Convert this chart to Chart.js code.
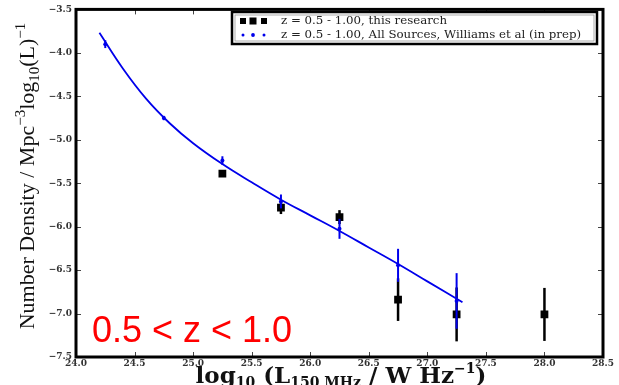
<!DOCTYPE html>
<html>
<head>
<meta charset="utf-8">
<script src="https://cdn.jsdelivr.net/npm/chart.js@4.4.1/dist/chart.umd.min.js"></script>
<style>
  html, body { margin: 0; padding: 0; background: #fff; }
  #wrap { width: 619px; height: 385px; position: relative; }
</style>
</head>
<body>
<div id="wrap"><canvas id="lf" width="619" height="385"></canvas></div>
<script>
// this research, z = 0.5 - 1.00
const blackLum = [25.25, 25.75, 26.25, 26.75, 27.25, 28.0];
const blackDens = [-5.39, -5.78, -5.89, -6.84, -7.01, -7.01];
const blackErr = [0.035, 0.075, 0.08, 0.245, 0.31, 0.305];

// Williams et al (in prep), all sources
const blueLum = [24.25, 24.75, 25.25, 25.75, 26.25, 26.75, 27.25];
const blueDens = [-3.9, -4.75, -5.24, -5.71, -6.025, -6.445, -6.855];
const blueErr = [0.045, 0.025, 0.05, 0.08, 0.115, 0.19, 0.32];

// fitted curve
const fitLum = [24.2, 24.4, 24.6, 24.8, 25.0, 25.25, 25.5, 25.75, 26.0, 26.25, 26.5, 26.75, 27.0, 27.3];
const fitDens = [-3.77, -4.18, -4.53, -4.81, -5.04, -5.28, -5.49, -5.69, -5.87, -6.05, -6.24, -6.43, -6.63, -6.87];

const xTicks = [24.0, 24.5, 25.0, 25.5, 26.0, 26.5, 27.0, 27.5, 28.0, 28.5];
const yTicks = [-7.5, -7.0, -6.5, -6.0, -5.5, -5.0, -4.5, -4.0, -3.5];

const legendLabels = [
  "z = 0.5 - 1.00, this research",
  "z = 0.5 - 1.00, All Sources, Williams et al (in prep)"
];
const zLabel = "0.5 < z < 1.0";

const BLUE = "rgb(0,0,235)";
const toPts = (xs, ys) => xs.map((x, i) => ({ x: x, y: ys[i] }));

// draws a string made of pieces with their own size / baseline shift
function richText(ctx, parts, x, y, weight, family) {
  let total = 0;
  parts.forEach(p => {
    ctx.font = weight + " " + p[1] + "px " + family;
    p.w = ctx.measureText(p[0]).width;
    total += p.w;
  });
  let cx = x - total / 2;
  ctx.textAlign = "left";
  ctx.textBaseline = "alphabetic";
  parts.forEach(p => {
    ctx.font = weight + " " + p[1] + "px " + family;
    ctx.fillText(p[0], cx, y + p[2]);
    cx += p.w;
  });
}

const errorBars = {
  id: "errorBars",
  beforeDatasetDraw(chart, args) {
    const ds = chart.data.datasets[args.index];
    if (!ds.errors) return;
    const ctx = chart.ctx;
    const xs = chart.scales.x, ys = chart.scales.y;
    ctx.save();
    ctx.strokeStyle = ds.borderColor;
    ctx.lineWidth = ds.errWidth;
    ds.data.forEach((p, i) => {
      const px = xs.getPixelForValue(p.x);
      ctx.beginPath();
      ctx.moveTo(px, ys.getPixelForValue(p.y + ds.errors[i]));
      ctx.lineTo(px, ys.getPixelForValue(p.y - ds.errors[i]));
      ctx.stroke();
    });
    ctx.restore();
  }
};

const decor = {
  id: "decor",
  afterDatasetsDraw(chart) {
    const ctx = chart.ctx;
    const a = chart.chartArea;
    const xs = chart.scales.x, ys = chart.scales.y;
    ctx.save();
    // inward ticks on all four sides
    ctx.strokeStyle = "#444";
    ctx.lineWidth = 1;
    xTicks.forEach(v => {
      const px = Math.round(xs.getPixelForValue(v)) + 0.5;
      ctx.beginPath();
      ctx.moveTo(px, a.top); ctx.lineTo(px, a.top + 5);
      ctx.moveTo(px, a.bottom); ctx.lineTo(px, a.bottom - 5);
      ctx.stroke();
    });
    yTicks.forEach(v => {
      const py = Math.round(ys.getPixelForValue(v)) + 0.5;
      ctx.beginPath();
      ctx.moveTo(a.left, py); ctx.lineTo(a.left + 5, py);
      ctx.moveTo(a.right, py); ctx.lineTo(a.right - 5, py);
      ctx.stroke();
    });
    // frame
    ctx.strokeStyle = "#000";
    ctx.lineWidth = 3;
    ctx.strokeRect(a.left, a.top, a.right - a.left, a.bottom - a.top);
    ctx.restore();
  },
  afterDraw(chart) {
    const ctx = chart.ctx;
    const ds = chart.data.datasets;
    ctx.save();

    // legend box
    ctx.fillStyle = "#fff";
    ctx.fillRect(232, 12, 365, 32);
    ctx.strokeStyle = "#000";
    ctx.lineWidth = 2.5;
    ctx.strokeRect(232, 12, 365, 32);
    ctx.strokeStyle = "#999";
    ctx.lineWidth = 0.8;
    ctx.strokeRect(235, 15, 359, 26);

    ctx.fillStyle = "#000";
    [243, 253, 264].forEach((mx, i) => {
      const s = i === 1 ? 7 : 6;
      ctx.fillRect(mx - s / 2, 21 - s / 2, s, s);
    });
    ctx.fillStyle = BLUE;
    [243, 253, 264].forEach((mx, i) => {
      ctx.beginPath();
      ctx.arc(mx, 35, i === 1 ? 1.9 : 1.5, 0, Math.PI * 2);
      ctx.fill();
    });
    ctx.fillStyle = "#222";
    ctx.font = "11.8px 'DejaVu Serif'";
    ctx.textAlign = "left";
    ctx.textBaseline = "middle";
    ctx.fillText(ds[0].label, 281, 21);
    ctx.fillText(ds[1].label, 281, 35);

    // axis titles
    ctx.fillStyle = "#111";
    richText(ctx, [
      ["log", 23, 0], ["10", 14, 4], [" (L", 23, 0], ["150 MHz", 14, 4],
      [" / W Hz", 23, 0], ["\u22121", 14, -10], [")", 23, 0]
    ], 341, 383, "bold", "'DejaVu Serif'");

    ctx.save();
    ctx.translate(34, 176);
    ctx.rotate(-Math.PI / 2);
    richText(ctx, [
      ["Number Density / Mpc", 22, 0], ["\u22123", 15, -9], ["log", 22, 0],
      ["10", 15, 5], ["(L)", 22, 0], ["\u22121", 15, -9]
    ], 0, 0, "normal", "'Liberation Serif'");
    ctx.restore();

    // redshift label
    ctx.fillStyle = "#ff0000";
    ctx.font = "36px 'Liberation Sans'";
    ctx.textAlign = "left";
    ctx.textBaseline = "alphabetic";
    ctx.fillText(zLabel, 92, 342);
    ctx.restore();
  }
};

new Chart(document.getElementById("lf"), {
  type: "scatter",
  data: {
    datasets: [
      {
        label: legendLabels[0],
        data: toPts(blackLum, blackDens),
        errors: blackErr,
        errWidth: 2.5,
        pointStyle: "rect",
        pointRadius: 5.5,
        backgroundColor: "#000",
        borderColor: "#000",
        borderWidth: 0,
        order: 3
      },
      {
        label: legendLabels[1],
        data: toPts(blueLum, blueDens),
        errors: blueErr,
        errWidth: 2,
        pointRadius: 2,
        backgroundColor: BLUE,
        borderColor: BLUE,
        borderWidth: 0,
        order: 2
      },
      {
        label: "fit",
        data: toPts(fitLum, fitDens),
        showLine: true,
        tension: 0.4,
        pointRadius: 0,
        borderColor: BLUE,
        borderWidth: 1.8,
        order: 1
      }
    ]
  },
  options: {
    responsive: false,
    animation: false,
    layout: { padding: { top: 8, right: 16, left: 0, bottom: 0 } },
    plugins: {
      legend: { display: false },
      tooltip: { enabled: false }
    },
    scales: {
      x: {
        type: "linear",
        min: 24,
        max: 28.5,
        afterBuildTicks: s => { s.ticks = xTicks.map(v => ({ value: v })); },
        afterFit: s => { s.height = 28; },
        grid: { display: false, drawTicks: false },
        border: { display: false },
        ticks: {
          autoSkip: false,
          maxRotation: 0,
          padding: 1,
          color: "#333",
          font: { family: "'DejaVu Serif'", size: 9, weight: "bold" },
          callback: v => v.toFixed(1)
        }
      },
      y: {
        type: "linear",
        min: -7.5,
        max: -3.5,
        afterBuildTicks: s => { s.ticks = yTicks.map(v => ({ value: v })); },
        afterFit: s => { s.width = 76; },
        grid: { display: false, drawTicks: false },
        border: { display: false },
        ticks: {
          autoSkip: false,
          padding: 4,
          color: "#333",
          font: { family: "'DejaVu Serif'", size: 9, weight: "bold" },
          callback: v => "\u2212" + Math.abs(v).toFixed(1)
        }
      }
    }
  },
  plugins: [errorBars, decor]
});
</script>
</body>
</html>
